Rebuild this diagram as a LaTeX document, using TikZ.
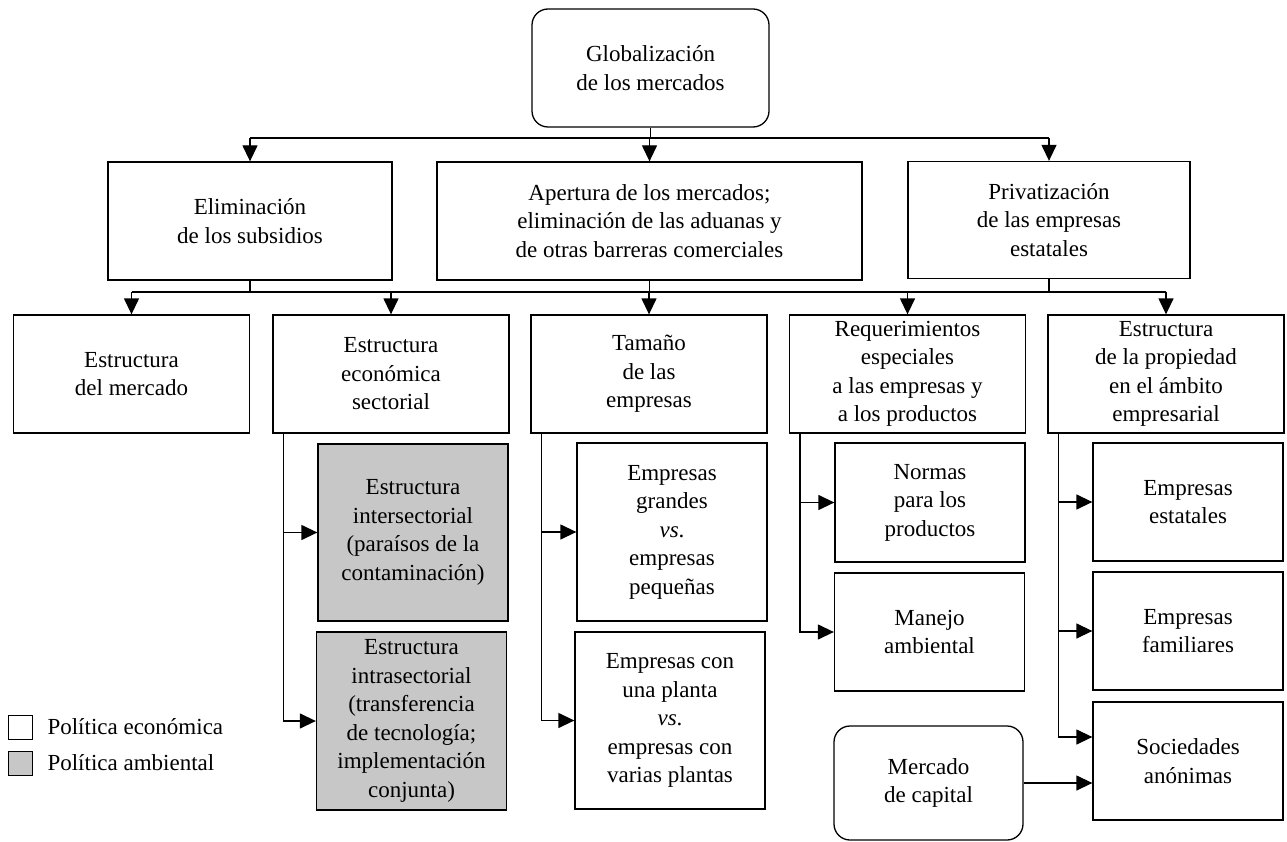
\documentclass[tikz,border=0pt]{standalone}
\usepackage{fontspec}
\setmainfont{Liberation Serif}
\usetikzlibrary{arrows.meta}
\definecolor{gris}{gray}{0.78}
\tikzset{
	caja/.style={draw, line width=1.3pt, align=center, inner sep=2pt},
	redondo/.style={caja, rounded corners=16pt},
	sub/.style={caja, minimum width=190pt},
	flecha/.style={line width=1.3pt, -{Triangle[length=16pt,width=15pt]}},
	linea/.style={line width=1.3pt}
}
\begin{document}
\begin{tikzpicture}[x=1pt,y=-1pt,font=\fontsize{23}{28.5}\selectfont]
		\useasboundingbox (0,0) rectangle (1287,842);
		% primer y segundo nivel
		\node[redondo, minimum width=237pt, minimum height=118pt] (glob) at (650.5,68) {Globalización\\de los mercados};
		\node[caja, minimum width=284pt, minimum height=118pt] (elim) at (250,221) {Eliminación\\de los subsidios};
		\node[caja, minimum width=425pt, minimum height=118pt] (aper) at (649.5,221) {Apertura de los mercados;\\eliminación de las aduanas y\\de otras barreras comerciales};
		\node[caja, minimum width=282pt, minimum height=117pt] (priv) at (1049,220) {Privatización\\de las empresas\\estatales};
		% tercer nivel
		\node[caja, minimum width=236pt, minimum height=118pt] (merc) at (131.5,374) {Estructura\\del mercado};
		\node[caja, minimum width=236pt, minimum height=118pt] (econ) at (391,374) {Estructura\\económica\\sectorial};
		\node[caja, minimum width=236pt, minimum height=118pt] (tam) at (649,374) {Tamaño\\de las\\empresas};
		\node[caja, minimum width=236pt, minimum height=118pt] (req) at (907.5,374) {Requerimientos\\especiales\\a las empresas y\\a los productos};
		\node[caja, minimum width=236pt, minimum height=118pt] (prop) at (1166,374) {Estructura\\de la propiedad\\en el ámbito\\empresarial};
		% cajas de abajo
		\node[sub, fill=gris, minimum height=177pt] (inter) at (413,532.5) {Estructura\\intersectorial\\(paraísos de la\\contaminación)};
		\node[sub, fill=gris, minimum height=178pt] (intra) at (411.5,721) {Estructura\\intrasectorial\\(transferencia\\de tecnología;\\implementación\\conjunta)};
		\node[sub, minimum height=178pt] (grand) at (672,532) {Empresas\\grandes\\\textit{vs}.\\empresas\\pequeñas};
		\node[sub, minimum height=177pt] (plant) at (670,720.5) {Empresas con\\una planta\\\textit{vs}.\\empresas con\\varias plantas};
		\node[sub, minimum height=119pt] (normas) at (930,502.5) {Normas\\para los\\productos};
		\node[sub, minimum height=118pt] (manejo) at (929.5,632) {Manejo\\ambiental};
		\node[sub, minimum height=118pt] (estat) at (1188,502) {Empresas\\estatales};
		\node[sub, minimum height=118pt] (famil) at (1188,631) {Empresas\\familiares};
		\node[sub, minimum height=118pt] (socied) at (1188,761) {Sociedades\\anónimas};
		\node[redondo, minimum width=189pt, minimum height=114pt] (mcap) at (928.5,783) {Mercado\\de capital};
		% leyenda
		\node[draw, line width=1pt, minimum size=24pt, inner sep=0pt] (leyeco) at (20.5,727) {};
		\node[draw, line width=1pt, fill=gris, minimum size=24pt, inner sep=0pt] (leyamb) at (20.5,763) {};
		\node[anchor=west] (txteco) at (44,727) {Política económica};
		\node[anchor=west] (txtamb) at (44,763) {Política ambiental};
		% conexiones
		\coordinate (b1) at (650,138);
		\coordinate (b2) at (0,292);
		\draw[linea] (glob.south) -- (glob.south |- b1);
		\draw[linea] (elim |- b1) -- (priv |- b1);
		\foreach \n in {elim,aper,priv}
			\draw[flecha] (\n |- b1) -- (\n);
		\foreach \n in {elim,aper,priv}
			\draw[linea] (\n.south) -- (\n.south |- b2);
		\draw[linea] (merc |- b2) -- (prop |- b2);
		\foreach \n in {merc,econ,tam,req,prop}
			\draw[flecha] (\n |- b2) -- (\n);
		\foreach \a/\b in {econ/inter,econ/intra,tam/grand,tam/plant,req/normas,req/manejo,prop/estat,prop/famil}
			\draw[flecha] ([xshift=11pt]\a.south west) |- (\b);
		\draw[flecha] ([xshift=11pt]prop.south west) |- ([yshift=24pt]socied.west);
		\draw[flecha] (mcap) -- (mcap -| socied.west);
\end{tikzpicture}
\end{document}
